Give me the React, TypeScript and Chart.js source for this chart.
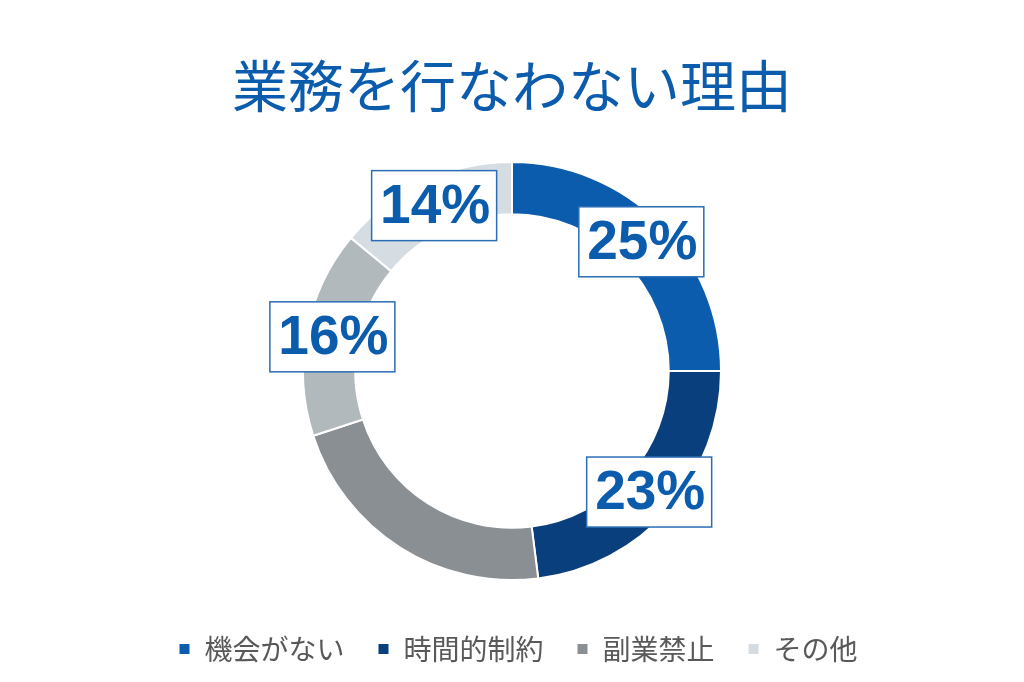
import React, { useEffect, useRef } from "react";
import { Chart, registerables } from "chart.js";

Chart.register(...registerables);

const TITLE = "業務を行なわない理由";
const CATEGORIES = ["機会がない", "時間的制約", "副業禁止", "", "その他"];
const VALUES = [25, 23, 22, 16, 14];
const SHOW_VALUE_LABEL = [true, true, false, true, true];
const COLORS = ["#0B5CAD", "#0A3F7E", "#8A8F93", "#B2B9BD", "#D5DDE3"];

const BLUE = "#0B5CAD";

const valueLabelPlugin = {
  id: "valueLabels",
  afterDatasetsDraw(chart: any) {
    const ctx = chart.ctx;
    const meta = chart.getDatasetMeta(0);
    meta.data.forEach((arc: any, i: number) => {
      if (!SHOW_VALUE_LABEL[i]) return;
      const p = arc.tooltipPosition();
      const w = 125;
      const h = 70;
      ctx.save();
      ctx.fillStyle = "#FFFFFF";
      ctx.fillRect(p.x - w / 2, p.y - h / 2, w, h);
      ctx.strokeStyle = "#2A6DB5";
      ctx.lineWidth = 1.5;
      ctx.strokeRect(p.x - w / 2, p.y - h / 2, w, h);
      ctx.fillStyle = BLUE;
      ctx.font = "bold 55px 'Liberation Sans', Arial, sans-serif";
      ctx.textAlign = "center";
      ctx.textBaseline = "middle";
      ctx.fillText(VALUES[i] + "%", p.x + 1, p.y + 2);
      ctx.restore();
    });
  },
};

const legendLayoutPlugin = {
  id: "legendLayout",
  beforeInit(chart: any) {
    const legend = chart.legend;
    if (!legend) return;
    const orig = legend.fit;
    legend.fit = function () {
      orig.call(this);
      this.height = 80;
    };
  },
  afterLayout(chart: any) {
    const legend = chart.legend;
    if (!legend) return;
    legend.left += 6;
    legend.right += 6;
  },
};

export default function App() {
  const ref = useRef<HTMLCanvasElement | null>(null);
  useEffect(() => {
    if (!ref.current) return;
    const chart = new Chart(ref.current, {
      type: "doughnut",
      data: {
        labels: CATEGORIES,
        datasets: [
          {
            data: VALUES,
            backgroundColor: COLORS,
            borderColor: "#FFFFFF",
            borderWidth: 2,
          },
        ],
      },
      options: {
        animation: false,
        responsive: false,
        radius: 209,
        cutout: "75%",
        layout: { padding: 0 },
        plugins: {
          title: {
            display: true,
            text: TITLE,
            color: BLUE,
            font: { family: "'Noto Sans CJK JP', sans-serif", size: 56, weight: "normal" },
            padding: { top: 52, bottom: 21 },
          },
          legend: {
            position: "bottom",
            labels: {
              color: "#595959",
              font: { family: "'Noto Sans CJK JP', sans-serif", size: 28 },
              boxWidth: 12,
              boxHeight: 12,
              padding: 33,
              filter: (item: any) => item.text !== "",
            },
          },
          tooltip: { enabled: false },
        },
      } as any,
      plugins: [valueLabelPlugin, legendLayoutPlugin],
    });
    return () => chart.destroy();
  }, []);
  return (
    <div style={{ position: "fixed", left: 0, top: 0, width: 1024, height: 682, background: "#FFFFFF" }}>
      <canvas ref={ref} width={1024} height={682} style={{ width: 1024, height: 682, display: "block" }} />
    </div>
  );
}
